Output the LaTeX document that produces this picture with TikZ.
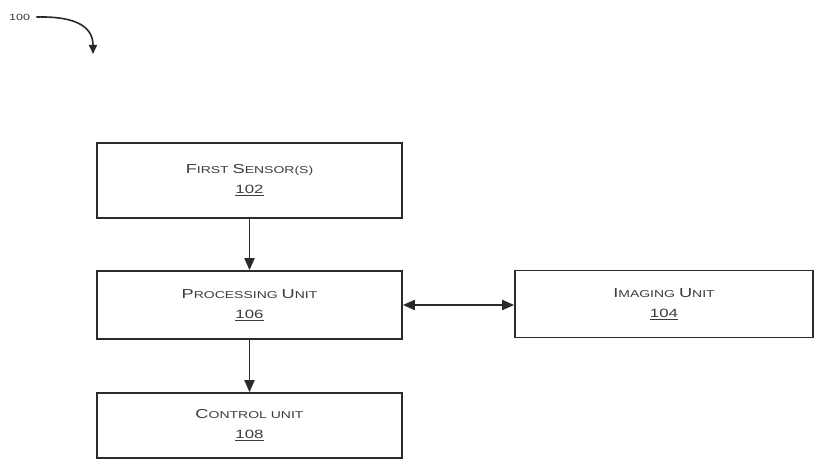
\documentclass[tikz,border=0pt]{standalone}
\usepackage{fontspec}
\newfontfamily\pf[FakeStretch=1.4]{Liberation Sans}
\usetikzlibrary{arrows.meta}
\definecolor{txt}{HTML}{3C3C3C}
\definecolor{ln}{HTML}{2A2A2A}
\newcommand\bigsm[2]{{\fontsize{13}{13}\selectfont #1}{\fontsize{10}{10}\selectfont #2}}
\newcommand\numl[1]{{\fontsize{12}{12}\selectfont\underline{#1}}}
\tikzset{
  box/.style={draw=ln, line width=1.7pt, fill=white, text=txt, align=center,
    font=\pf, inner sep=0pt},
  arr/.style={draw=ln, line width=1.8pt, -{Triangle[length=12pt,width=10pt]}},
  darr/.style={draw=ln, line width=1.8pt, {Triangle[length=12pt,width=10pt]}-{Triangle[length=12pt,width=10pt]}}
}
\begin{document}
\begin{tikzpicture}[x=1pt,y=1pt]
\useasboundingbox (0,0) rectangle (814,459);
\fill[white] (0,0) rectangle (814,459);
\node[box, minimum width=305pt, minimum height=75pt] (s102) at (249.5,278.5)
  {\bigsm{F}{IRST} \bigsm{S}{ENSOR(S)}\\[8pt]\numl{102}};
\node[box, minimum width=305pt, minimum height=68pt] (p106) at (249.5,154)
  {\bigsm{P}{ROCESSING} \bigsm{U}{NIT}\\[8pt]\numl{106}};
\node[box, minimum width=298pt, minimum height=67pt] (i104) at (664,155)
  {\bigsm{I}{MAGING} \bigsm{U}{NIT}\\[8pt]\numl{104}};
\node[box, minimum width=305pt, minimum height=65pt] (c108) at (249.5,33.5)
  {\bigsm{C}{ONTROL} {\fontsize{10}{10}\selectfont UNIT}\\[8pt]\numl{108}};
\draw[arr] (s102) -- (p106);
\draw[arr] (p106) -- (c108);
\draw[darr] (p106.east) -- (p106.east -| i104.west);
\node[font=\pf\fontsize{9}{9}\selectfont, text=txt, anchor=west, inner sep=0pt] (lbl) at (9,442) {100};
\coordinate (tip) at (93,405);
\draw[draw=ln, line width=1.6pt, -{Triangle[length=9pt,width=8pt]}]
  ([xshift=6pt]lbl.east) .. controls (80,443) and (93,430) .. (tip);
\end{tikzpicture}
\end{document}
